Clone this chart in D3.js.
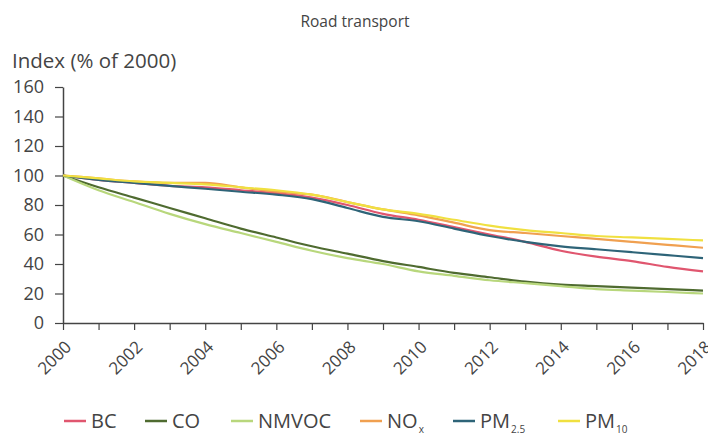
<!DOCTYPE html>
<html>
<head>
<meta charset="utf-8">
<script src="https://cdn.jsdelivr.net/npm/d3@7"></script>
<style>
  body { margin: 0; background: #fff; }
  text { font-family: "Open Sans", "Noto Sans", sans-serif; fill: #444; }
</style>
</head>
<body>
<svg id="chart" width="708" height="436"></svg>
<script>
// values (index, 2000 = 100)
const years = d3.range(2000, 2019);
const yTicks = [0, 20, 40, 60, 80, 100, 120, 140, 160];
const xLabelYears = [2000, 2002, 2004, 2006, 2008, 2010, 2012, 2014, 2016, 2018];

const bc    = [100, 97, 95, 93, 92, 90, 88, 85, 80, 74, 70, 65, 60, 55, 49, 45, 42, 38, 35];
const co    = [100, 92, 85, 78, 71, 64, 58, 52, 47, 42, 38, 34, 31, 28, 26, 25, 24, 23, 22];
const nmvoc = [100, 90, 82, 74, 67, 61, 55, 49, 44, 40, 35, 32, 29, 27, 25, 23, 22, 21, 20];
const nox   = [100, 98, 96, 95, 95, 92, 89, 87, 82, 77, 73, 68, 63, 61, 59, 57, 55, 53, 51];
const pm25  = [100, 97, 95, 93, 91, 89, 87, 84, 78, 72, 69, 64, 59, 55, 52, 50, 48, 46, 44];
const pm10  = [100, 98, 96, 95, 94, 92, 90, 87, 82, 77, 74, 70, 66, 63, 61, 59, 58, 57, 56];

const series = [
  { name: "BC", sub: "", values: bc, color: "#e0566f" },
  { name: "CO", sub: "", values: co, color: "#4f6b30" },
  { name: "NMVOC", sub: "", values: nmvoc, color: "#b8d77c" },
  { name: "NO", sub: "x", values: nox, color: "#f0a050" },
  { name: "PM", sub: "2.5", values: pm25, color: "#2e6478" },
  { name: "PM", sub: "10", values: pm10, color: "#f0e040" }
];

const svg = d3.select("#chart");
const margin = { top: 87, left: 63 };
const width = 640, height = 236;

const x = d3.scaleLinear().domain([2000, 2018]).range([0, width]);
const y = d3.scaleLinear().domain([0, 160]).range([height, 0]);

svg.append("text")
  .attr("x", 355).attr("y", 27)
  .attr("text-anchor", "middle")
  .style("font-size", "15.5px")
  .text("Road transport");

svg.append("text")
  .attr("x", 12).attr("y", 68)
  .style("font-size", "20.5px")
  .text("Index (% of 2000)");

const g = svg.append("g")
  .attr("transform", `translate(${margin.left},${margin.top})`);

// y axis
const yAxis = g.append("g")
  .call(d3.axisLeft(y).tickValues(yTicks).tickSize(8).tickSizeOuter(0).tickPadding(11));
yAxis.select(".domain").attr("stroke", "#444").attr("stroke-width", 1.5);
yAxis.selectAll(".tick line").attr("stroke", "#444").attr("stroke-width", 1.2);
yAxis.selectAll(".tick text")
  .style("font-size", "18px")
  .style("font-family", "'Open Sans', 'Noto Sans', sans-serif")
  .attr("fill", "#444");

// x axis
const xAxis = g.append("g")
  .attr("transform", `translate(0,${height})`)
  .call(d3.axisBottom(x).tickValues(years).tickSize(7).tickSizeOuter(0)
    .tickFormat(d => xLabelYears.includes(d) ? d : ""));
xAxis.select(".domain").attr("stroke", "#444").attr("stroke-width", 1.5);
xAxis.selectAll(".tick line").attr("stroke", "#444").attr("stroke-width", 1.2);
xAxis.selectAll(".tick text")
  .style("font-size", "17px")
  .style("font-family", "'Open Sans', 'Noto Sans', sans-serif")
  .attr("fill", "#444")
  .attr("text-anchor", "end")
  .attr("x", 0).attr("y", 0).attr("dy", 0)
  .attr("transform", "translate(9,25) rotate(-45)");

// lines
const line = d3.line()
  .x((d, i) => x(years[i]))
  .y(d => y(d))
  .curve(d3.curveMonotoneX);

g.selectAll(".series")
  .data(series)
  .enter().append("path")
  .attr("class", "series")
  .attr("fill", "none")
  .attr("stroke", d => d.color)
  .attr("stroke-width", 2.2)
  .attr("d", d => line(d.values));

// legend
const legendX = [64, 145, 231, 360, 453, 558];
const legend = svg.append("g").attr("transform", "translate(0,421)");
series.forEach((s, i) => {
  const item = legend.append("g").attr("transform", `translate(${legendX[i]},0)`);
  item.append("line")
    .attr("x1", 0).attr("x2", 22)
    .attr("y1", 0).attr("y2", 0)
    .attr("stroke", s.color).attr("stroke-width", 2.5);
  const t = item.append("text")
    .attr("x", 27).attr("y", 7)
    .style("font-size", "20px");
  t.append("tspan").text(s.name);
  if (s.sub) {
    t.append("tspan").attr("dy", 5).attr("dx", 1).style("font-size", "10px").text(s.sub);
  }
});
</script>
</body>
</html>
